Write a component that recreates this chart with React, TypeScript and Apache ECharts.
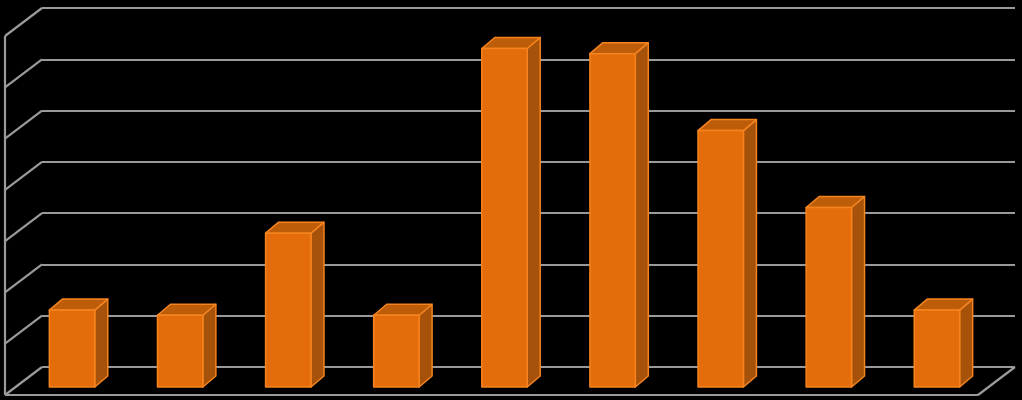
import { useEffect, useRef } from 'react';
import * as echarts from 'echarts';

const categories = ['1', '2', '3', '4', '5', '6', '7', '8', '9'];
const values = [1.5, 1.4, 3.0, 1.4, 6.6, 6.5, 5.0, 3.5, 1.5];
const yTicks = [0, 1, 2, 3, 4, 5, 6, 7];

// perspective offsets (px) from the back wall plane
const FLOOR_DEPTH: [number, number] = [-37, 28];
const BAR_FRONT: [number, number] = [-24, 20];
const BAR_BACK: [number, number] = [-11, 9];

const GRID_COLOR = '#9a9a9a';

export default function App() {
  const chartRef = useRef<HTMLDivElement>(null);

  useEffect(() => {
    if (!chartRef.current) return;
    const chart = echarts.init(chartRef.current, undefined, { renderer: 'svg' });

    const option: echarts.EChartsOption = {
      animation: false,
      backgroundColor: '#000000',
      grid: { left: 42, right: 7, top: 8, bottom: 33 },
      xAxis: {
        type: 'category',
        data: categories,
        axisLine: { show: false },
        axisTick: { show: false },
        axisLabel: { show: false },
      },
      yAxis: {
        type: 'value',
        min: 0,
        max: 7,
        interval: 1,
        axisLine: { show: false },
        axisTick: { show: false },
        axisLabel: { show: false },
        splitLine: { lineStyle: { color: GRID_COLOR, width: 2.2 } },
      },
      series: [
        {
          type: 'custom',
          name: 'frame',
          silent: true,
          data: yTicks.map((v) => [0, v]),
          renderItem: (params: any, api: any) => {
            const cs = params.coordSys;
            const v = api.value(1);
            const y = api.coord([0, v])[1];
            const x0 = cs.x;
            const [dx, dy] = FLOOR_DEPTH;
            const style = { stroke: GRID_COLOR, lineWidth: 2.2 };
            const children: any[] = [
              { type: 'line', shape: { x1: x0, y1: y, x2: x0 + dx, y2: y + dy }, style },
            ];
            if (v === yTicks[0]) {
              const right = cs.x + cs.width;
              children.push({
                type: 'line',
                shape: { x1: x0 + dx, y1: y + dy, x2: right + dx, y2: y + dy },
                style,
              });
              children.push({
                type: 'line',
                shape: { x1: right + dx, y1: y + dy, x2: right, y2: y },
                style,
              });
            }
            if (v === yTicks[yTicks.length - 1]) {
              const yb = api.coord([0, yTicks[0]])[1];
              children.push({
                type: 'line',
                shape: { x1: x0 + dx, y1: y + dy, x2: x0 + dx, y2: yb + dy },
                style,
              });
            }
            return { type: 'group', children };
          },
          z: 1,
        },
        {
          type: 'custom',
          name: 'bars',
          data: values.map((v, i) => [i, v]),
          renderItem: (params: any, api: any) => {
            const i = api.value(0);
            const v = api.value(1);
            const base = api.coord([i, 0]);
            const top = api.coord([i, v]);
            const half = api.size([1, 0])[0] * 0.21;
            const [fx, fy] = BAR_FRONT;
            const [bx, by] = BAR_BACK;
            const fl = base[0] + fx - half;
            const fr = base[0] + fx + half;
            const bl = base[0] + bx - half;
            const br = base[0] + bx + half;
            const ft = top[1] + fy;
            const fb = base[1] + fy;
            const bt = top[1] + by;
            const bb = base[1] + by;
            const edge = { stroke: '#f5841f', lineWidth: 1.5, lineJoin: 'round' };
            return {
              type: 'group',
              children: [
                {
                  type: 'polygon',
                  shape: { points: [[fr, ft], [fr, fb], [br, bb], [br, bt]] },
                  style: { fill: '#a6520a', ...edge },
                },
                {
                  type: 'polygon',
                  shape: { points: [[fl, ft], [fr, ft], [br, bt], [bl, bt]] },
                  style: { fill: '#bd5d0a', ...edge },
                },
                {
                  type: 'rect',
                  shape: { x: fl, y: ft, width: fr - fl, height: fb - ft },
                  style: { fill: '#e46c0a', ...edge },
                },
              ],
            };
          },
          z: 2,
        },
      ],
    };

    chart.setOption(option);
    return () => chart.dispose();
  }, []);

  return (
    <div
      ref={chartRef}
      style={{ position: 'fixed', left: 0, top: 0, width: 1022, height: 400 }}
    />
  );
}
